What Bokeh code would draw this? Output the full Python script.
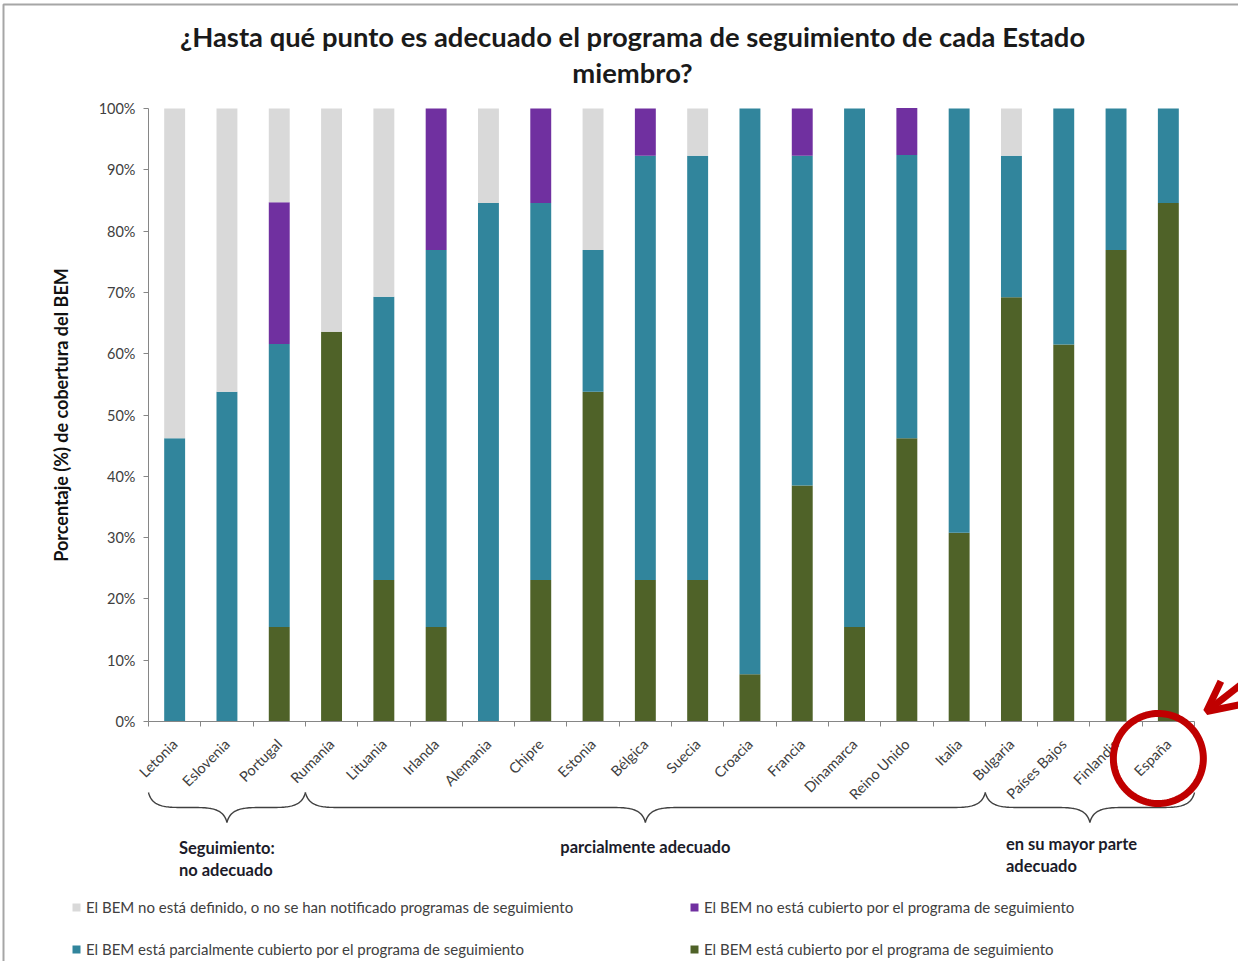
import numpy as np
from math import pi
from bokeh.plotting import figure
from bokeh.models import (Range1d, LinearAxis, FixedTicker, PrintfTickFormatter, Legend, LegendItem,
                          Label, PolyAnnotation, Arrow, OpenHead, ColumnDataSource)
from bokeh.embed import file_html
from bokeh.resources import INLINE

# ---------------- data ----------------
countries = ["Letonia", "Eslovenia", "Portugal", "Rumanía", "Lituania", "Irlanda", "Alemania",
             "Chipre", "Estonia", "Bélgica", "Suecia", "Croacia", "Francia", "Dinamarca",
             "Reino Unido", "Italia", "Bulgaria", "Países Bajos", "Finlandia", "España"]
covered     = [0, 0, 15.4, 63.6, 23.1, 15.4, 0, 23.1, 53.8, 23.1, 23.1, 7.7, 38.5, 15.4, 46.2, 30.8, 69.2, 61.5, 76.9, 84.6]
partial     = [46.2, 53.8, 46.2, 0, 46.2, 61.5, 84.6, 61.5, 23.1, 69.2, 69.2, 92.3, 53.8, 84.6, 46.2, 69.2, 23.1, 38.5, 23.1, 15.4]
not_covered = [0, 0, 23.1, 0, 0, 23.1, 0, 15.4, 0, 7.7, 0, 0, 7.7, 0, 7.7, 0, 0, 0, 0, 0]
undefined   = [53.8, 46.2, 15.3, 36.4, 30.7, 0, 15.4, 0, 23.1, 0, 7.7, 0, 0, 0, 0, 0, 7.7, 0, 0, 0]

series_keys = ["covered", "partial", "not_covered", "undefined"]
series_labels = {
    "undefined": "El BEM no está definido, o no se han notificado programas de seguimiento",
    "not_covered": "El BEM no está cubierto por el programa de seguimiento",
    "partial": "El BEM está parcialmente cubierto por el programa de seguimiento",
    "covered": "El BEM está cubierto por el programa de seguimiento",
}
series_colors = {"covered": "#4f6228", "partial": "#31859c", "not_covered": "#7030a0", "undefined": "#d9d9d9"}

group_names = [["Seguimiento:", "no adecuado"], ["parcialmente adecuado"], ["en su mayor parte", "adecuado"]]
group_sizes = [3, 13, 4]
highlight = "España"
title_lines = ["¿Hasta qué punto es adecuado el programa de seguimiento de cada Estado", "miembro?"]
y_ticks = [0, 10, 20, 30, 40, 50, 60, 70, 80, 90, 100]
y_title = "Porcentaje (%) de cobertura del BEM"

# ---------------- layout (canvas pixels) ----------------
W, H = 1238, 961
FL, FR, FT, FB = 148, 1194, 108, 721      # area of the bars
N = len(countries)
ppx = (FR - FL) / N
ppy = (FB - FT) / 100.0
FONT = "Lato"
TXT = "#404040"
AX = "#868686"


def dx(cx):
    return (np.asarray(cx, dtype=float) - FL) / ppx - 0.5


def dy(cy):
    return (FB - np.asarray(cy, dtype=float)) / ppy


p = figure(width=W, height=H, x_range=Range1d(float(dx(0)), float(dx(W))),
           y_range=Range1d(float(dy(H)), float(dy(0))),
           output_backend="svg", toolbar_location=None, x_axis_location=None, y_axis_location=None,
           min_border=0, outline_line_color=None, background_fill_color="white", border_fill_color="white")
p.grid.visible = False

xpos = list(range(N))
src = ColumnDataSource(dict(x=xpos, covered=covered, partial=partial,
                            not_covered=not_covered, undefined=undefined))
rs = p.vbar_stack(series_keys, x="x", width=0.4, source=src,
                  color=[series_colors[k] for k in series_keys], line_color=None)
rmap = dict(zip(series_keys, rs))

# x axis: labels at bar centres, small ticks between categories
xa = LinearAxis(fixed_location=0, bounds=(-0.5, N - 0.5),
                ticker=FixedTicker(ticks=xpos, minor_ticks=[k - 0.5 for k in range(N + 1)]),
                major_label_overrides={i: c for i, c in enumerate(countries)},
                axis_line_color=AX, major_tick_line_color=None, major_tick_out=0, major_tick_in=0,
                minor_tick_line_color=AX, minor_tick_out=5, minor_tick_in=0,
                major_label_orientation=pi / 4, major_label_standoff=15,
                major_label_text_font=FONT, major_label_text_font_size="14.5px",
                major_label_text_color=TXT)
p.add_layout(xa, "below")

# y axis
ya = LinearAxis(fixed_location=-0.5, bounds=(0, 100), ticker=FixedTicker(ticks=y_ticks),
                formatter=PrintfTickFormatter(format="%d%%"),
                axis_line_color=AX, major_tick_line_color=AX, major_tick_out=5, major_tick_in=0,
                minor_tick_line_color=None, major_label_text_font=FONT, major_label_text_font_size="14.5px",
                major_label_text_color=TXT, major_label_standoff=8,
                axis_label=y_title, axis_label_text_font=FONT, axis_label_text_font_style="bold",
                axis_label_text_font_size="18px", axis_label_text_color="#111111", axis_label_standoff=24)
p.add_layout(ya, "left")

# title
for i, line in enumerate(title_lines):
    p.add_layout(Label(x=float(dx(632)), y=float(dy(36 + 36 * i)), text=line, text_align="center",
                       text_baseline="middle", text_font=FONT, text_font_style="bold",
                       text_font_size="27.4px", text_color="#1a1a1a"))

# braces
starts = np.concatenate([[0], np.cumsum(group_sizes)[:-1]])
ends = np.cumsum(group_sizes)


def bez(p0, p1, p2, p3, n=30):
    t = np.linspace(0, 1, n)[:, None]
    return ((1 - t) ** 3) * p0 + 3 * ((1 - t) ** 2) * t * p1 + 3 * (1 - t) * t ** 2 * p2 + t ** 3 * p3


YT, YM, YB, R = 792, 807, 822, 36
for g, (s, e) in enumerate(zip(starts, ends)):
    x0 = FL + s * ppx
    x1 = FL + e * ppx
    xc = (x0 + x1) / 2
    segs = [
        bez(np.array([x0, YT]), np.array([x0 + 0.1 * R, YM]), np.array([x0 + 0.5 * R, YM]), np.array([x0 + R, YM])),
        bez(np.array([xc - R, YM]), np.array([xc - 0.5 * R, YM]), np.array([xc - 0.1 * R, YM]), np.array([xc, YB])),
        bez(np.array([xc, YB]), np.array([xc + 0.1 * R, YM]), np.array([xc + 0.5 * R, YM]), np.array([xc + R, YM])),
        bez(np.array([x1 - R, YM]), np.array([x1 - 0.5 * R, YM]), np.array([x1 - 0.1 * R, YM]), np.array([x1, YT])),
    ]
    pts = np.vstack(segs)
    path = np.vstack([pts, pts[::-1]])
    p.add_layout(PolyAnnotation(xs=list(dx(path[:, 0])), ys=list(dy(path[:, 1])),
                                fill_color=None, fill_alpha=0, line_color="#404040", line_alpha=1,
                                line_width=1.4))

# group labels
grp_offsets = [-48, None, -84]
grp_tops = [847, 846, 843]
for g, (s, e) in enumerate(zip(starts, ends)):
    xc = (s + e) / 2 - 0.5
    for j, line in enumerate(group_names[g]):
        off = grp_offsets[g]
        p.add_layout(Label(x=float(xc), y=float(dy(grp_tops[g] + 22 * j)),
                           x_offset=(off if off is not None else 0),
                           text=line, text_align=("left" if off is not None else "center"),
                           text_baseline="middle", text_font=FONT, text_font_style="bold",
                           text_font_size="16.5px", text_color="#1c1c2a"))

# legends
leg_common = dict(border_line_color=None, background_fill_alpha=0, padding=0, margin=0, spacing=24,
                  glyph_width=10, glyph_height=10, label_height=12, label_standoff=5,
                  label_text_font=FONT, label_text_font_size="15px", label_text_color=TXT)
leg1 = Legend(items=[LegendItem(label=series_labels["undefined"], renderers=[rmap["undefined"]]),
                     LegendItem(label=series_labels["partial"], renderers=[rmap["partial"]])],
              location=(71, 3), **leg_common)
leg2 = Legend(items=[LegendItem(label=series_labels["not_covered"], renderers=[rmap["not_covered"]]),
                     LegendItem(label=series_labels["covered"], renderers=[rmap["covered"]])],
              location=(689, 3), **leg_common)
p.add_layout(leg1)
p.add_layout(leg2)

# highlight circle + arrow
hi = countries.index(highlight)
cxc = FL + (hi + 0.5) * ppx - 10
cyc = 758
t = np.linspace(0, 2 * pi, 120)
p.add_layout(PolyAnnotation(xs=list(dx(cxc + 45 * np.cos(t))), ys=list(dy(cyc + 45 * np.sin(t))),
                            fill_color=None, fill_alpha=0, line_color="#c00000", line_alpha=1, line_width=7))
p.add_layout(Arrow(x_start=float(dx(1252)), y_start=float(dy(675)), x_end=float(dx(1206)), y_end=float(dy(711)),
                   line_color="#c00000", line_width=7,
                   end=OpenHead(size=30, line_color="#c00000", line_width=7)))

# outer frame lines (top and left)
p.add_layout(PolyAnnotation(xs=list(dx([W + 5, 3, 3, 3, W + 5])), ys=list(dy([4, 4, H + 5, 4, 4])),
                            fill_color=None, fill_alpha=0, line_color="#a6a6a6", line_alpha=1, line_width=2))

open("out.html", "w").write(file_html(p, INLINE))
